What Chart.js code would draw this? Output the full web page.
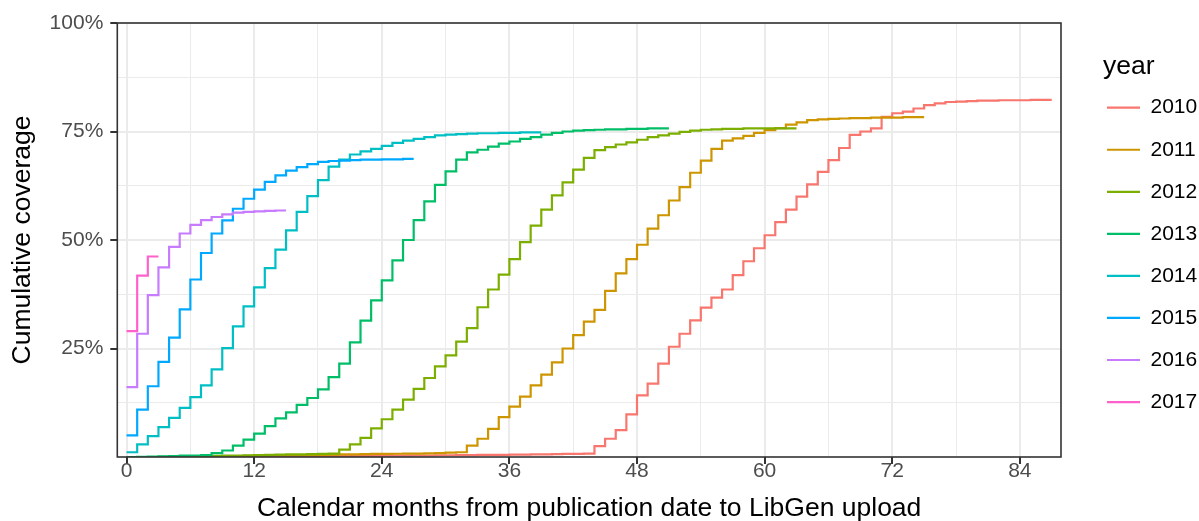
<!DOCTYPE html>
<html>
<head>
<meta charset="utf-8">
<script src="https://cdn.jsdelivr.net/npm/chart.js@4.4.1/dist/chart.umd.min.js"></script>
<style>
  html, body { margin: 0; padding: 0; background: #fff; }
</style>
</head>
<body>
<canvas id="chart" width="1199" height="521"></canvas>
<script>
// Données : couverture cumulée (%) par mois écoulé depuis la publication
const years   = ['2010', '2011', '2012', '2013', '2014', '2015', '2016', '2017'];
const colours = ['#F8766D', '#CD9600', '#7CAE00', '#00BE67', '#00BFC4', '#00A9FF', '#C77CFF', '#FF61CC'];

const cov2010 = [0, 0, 0, 0, 0, 0, 0, 0, 0, 0, 0, 0, 0.05, 0.05, 0.1, 0.1, 0.1, 0.15, 0.15, 0.2,
  0.2, 0.2, 0.25, 0.25, 0.3, 0.3, 0.3, 0.35, 0.35, 0.4, 0.4, 0.45, 0.45, 0.5, 0.5, 0.5, 0.55, 0.55, 0.6, 0.6,
  0.65, 0.7, 0.7, 0.8,
  2.5, 4.2, 6.2, 9.8, 14.2, 16.9, 21.5, 25.4, 28.4, 31.5, 34.4, 36.7, 38.6, 41.9, 45.1, 48.1, 51.1, 54.1,
  57.0, 60.0, 62.8, 65.7, 68.4, 71.2, 74.2, 75.0, 75.7, 78.4, 79.2, 79.6, 80.3, 81.1, 81.5, 81.8, 81.9, 82.0,
  82.1, 82.1, 82.2, 82.2, 82.2, 82.3, 82.3, 82.3];
const cov2011 = [0, 0, 0, 0, 0, 0.05, 0.1, 0.1, 0.15, 0.2, 0.2, 0.25, 0.3, 0.35, 0.4, 0.4, 0.45, 0.5, 0.5, 0.55,
  0.6, 0.6, 0.65, 0.7, 0.7, 0.75, 0.8, 0.8, 0.85, 0.9, 1.0, 1.1,
  2.6, 4.2, 6.5, 9.2, 11.6, 13.9, 16.5, 19.0, 21.8, 25.0, 28.1, 31.2, 33.9, 38.3, 42.3, 45.6, 48.9, 52.6,
  55.7, 59.1, 62.2, 65.5, 68.3, 71.0, 72.9, 73.4, 74.0, 74.7, 75.3, 75.8, 76.6, 77.1, 77.6, 77.8, 77.9, 78.0,
  78.1, 78.1, 78.2, 78.2, 78.2, 78.3, 78.3, 78.3];
const cov2012 = [0, 0, 0, 0.05, 0.1, 0.1, 0.15, 0.2, 0.25, 0.3, 0.35, 0.4, 0.45, 0.5, 0.55, 0.6, 0.6, 0.65, 0.7, 0.8,
  1.7, 2.9, 4.4, 6.6, 8.7, 10.9, 13.2, 15.7, 18.2, 20.9, 23.4, 26.6, 29.7, 34.5, 38.6, 42.0, 45.6, 49.5,
  53.3, 57.0, 60.3, 63.3, 66.2, 68.9, 70.7, 71.4, 72.0, 72.5, 73.1, 73.7, 74.1, 74.5, 74.9, 75.2, 75.4, 75.5,
  75.6, 75.6, 75.7, 75.7, 75.7, 75.7, 75.7, 75.7];
const cov2013 = [0, 0.05, 0.1, 0.15, 0.2, 0.3, 0.35, 0.45,
  0.9, 1.5, 2.6, 4.0, 5.4, 7.1, 8.9, 10.3, 12.0, 13.6, 15.6, 18.4, 21.5, 26.4, 31.4, 36.1, 40.7, 45.3,
  50.0, 54.6, 58.9, 62.7, 65.8, 68.5, 70.2, 70.8, 71.5, 72.2, 72.7, 73.3, 73.7, 74.3, 74.7, 75.0, 75.2, 75.3,
  75.4, 75.5, 75.5, 75.6, 75.6, 75.7, 75.7, 75.7];
const cov2014 = [1.1, 2.9, 4.8, 6.9, 9.0, 11.3, 13.8, 16.5, 20.2, 25.1, 30.1, 34.7, 39.1, 43.5, 47.8, 52.2,
  56.5, 60.1, 63.8, 66.9, 68.5, 69.7, 70.4, 71.0, 71.7, 72.4, 72.9, 73.3, 73.7, 74.1, 74.3, 74.4, 74.5, 74.6,
  74.6, 74.7, 74.7, 74.8, 74.8, 74.8];
const cov2015 = [5.0, 10.9, 16.3, 21.9, 27.5, 34.0, 40.9, 47.0, 51.5, 54.5, 57.2, 59.5, 61.6, 63.4, 64.9, 66.0,
  66.8, 67.5, 68.0, 68.2, 68.3, 68.4, 68.5, 68.5, 68.6, 68.6, 68.7, 68.7];
const cov2016 = [16.1, 28.4, 37.3, 43.7, 48.4, 51.5, 53.5, 54.6, 55.3, 55.9, 56.3, 56.5, 56.6, 56.7, 56.8, 56.8];
const cov2017 = [29.0, 41.8, 46.2, 46.2];

const series = [cov2010, cov2011, cov2012, cov2013, cov2014, cov2015, cov2016, cov2017];

// Graduations
const xMajor = [0, 12, 24, 36, 48, 60, 72, 84];
const xMinor = [6, 18, 30, 42, 54, 66, 78];
const yMajor = [25, 50, 75, 100];
const yMinor = [12.5, 37.5, 62.5, 87.5];

const FONT = '"Liberation Sans", Arial, sans-serif';

const isMajor = (list, v) => list.some(m => Math.abs(m - v) < 1e-6);

// Cadre du panneau (dessiné au-dessus des courbes, comme ggplot)
const panelBorder = {
  id: 'panelBorder',
  afterDatasetsDraw(chart) {
    const { ctx, chartArea: a } = chart;
    ctx.save();
    ctx.strokeStyle = '#333333';
    ctx.lineWidth = 1.6;
    ctx.strokeRect(a.left, a.top, a.right - a.left, a.bottom - a.top);
    ctx.restore();
  }
};

// Légende à droite
const yearLegend = {
  id: 'yearLegend',
  afterDraw(chart) {
    const { ctx } = chart;
    ctx.save();
    ctx.fillStyle = '#000';
    ctx.font = `26.5px ${FONT}`;
    ctx.textBaseline = 'alphabetic';
    ctx.fillText('year', 1103, 74);
    ctx.font = `21px ${FONT}`;
    ctx.textBaseline = 'middle';
    chart.data.datasets.forEach((ds, i) => {
      const cy = 107.7 + i * 42.05;
      ctx.strokeStyle = ds.borderColor;
      ctx.lineWidth = 2.2;
      ctx.beginPath();
      ctx.moveTo(1107, cy);
      ctx.lineTo(1140, cy);
      ctx.stroke();
      ctx.fillStyle = '#000';
      ctx.fillText(ds.label, 1150.5, cy);
    });
    ctx.restore();
  }
};

new Chart(document.getElementById('chart'), {
  type: 'line',
  data: {
    datasets: years.map((y, i) => ({
      label: y,
      data: series[i].map((v, m) => ({ x: m, y: v })),
      borderColor: colours[i],
      backgroundColor: colours[i],
      borderWidth: 2.2,
      stepped: 'before',
      pointRadius: 0,
      fill: false,
      order: years.length - i
    }))
  },
  options: {
    responsive: false,
    animation: false,
    layout: { padding: { left: 0, right: 138, top: 23, bottom: 0 } },
    plugins: { legend: { display: false }, tooltip: { enabled: false } },
    scales: {
      x: {
        type: 'linear',
        min: -0.87,
        max: 87.87,
        afterBuildTicks: s => { s.ticks = [...xMajor, ...xMinor].sort((a, b) => a - b).map(v => ({ value: v })); },
        afterFit: s => { s.height = 64; },
        border: { display: false },
        grid: {
          color: '#ebebeb',
          lineWidth: c => isMajor(xMajor, c.tick.value) ? 2 : 1,
          tickColor: c => isMajor(xMajor, c.tick.value) ? '#333333' : 'rgba(0,0,0,0)',
          tickWidth: 2,
          tickLength: 7
        },
        ticks: {
          autoSkip: false,
          maxRotation: 0,
          padding: -5,
          color: '#4d4d4d',
          font: { family: FONT, size: 21 },
          callback: v => isMajor(xMajor, v) ? String(v) : ''
        },
        title: {
          display: true,
          text: 'Calendar months from publication date to LibGen upload',
          color: '#000',
          font: { family: FONT, size: 26.5 },
          padding: { top: 0, bottom: -3.7 }
        }
      },
      y: {
        type: 'linear',
        min: 0,
        max: 100,
        afterBuildTicks: s => { s.ticks = [...yMinor, ...yMajor].sort((a, b) => a - b).map(v => ({ value: v })); },
        afterFit: s => { s.width = 117.3; },
        border: { display: false },
        grid: {
          color: '#ebebeb',
          lineWidth: c => isMajor(yMajor, c.tick.value) ? 2 : 1,
          tickColor: c => isMajor(yMajor, c.tick.value) ? '#333333' : 'rgba(0,0,0,0)',
          tickWidth: 2,
          tickLength: 7
        },
        ticks: {
          autoSkip: false,
          padding: 7,
          color: '#4d4d4d',
          font: { family: FONT, size: 21 },
          callback: v => isMajor(yMajor, v) ? `${v}%` : ''
        },
        title: {
          display: true,
          text: 'Cumulative coverage',
          color: '#000',
          font: { family: FONT, size: 26.5 },
          padding: { top: 6.5, bottom: 0 }
        }
      }
    }
  },
  plugins: [panelBorder, yearLegend]
});
</script>
</body>
</html>
